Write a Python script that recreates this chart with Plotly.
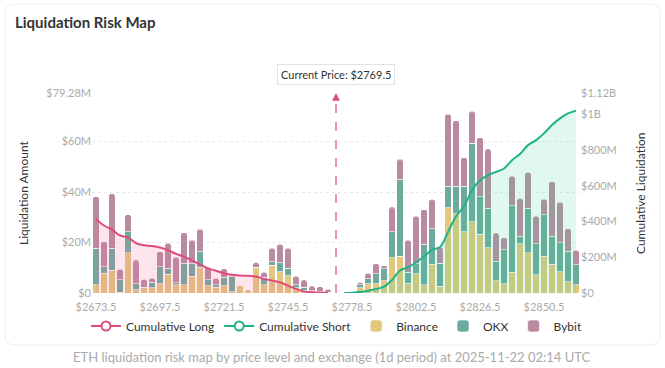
import plotly.graph_objects as go

# ---------------- data ----------------
below_prices = [2673.5, 2676.5, 2679.5, 2682.5, 2685.5, 2688.5, 2691.5, 2694.5, 2697.5, 2700.5,
                2703.5, 2706.5, 2709.5, 2712.5, 2715.5, 2718.5, 2721.5, 2724.5, 2727.5, 2730.5,
                2733.5, 2736.5, 2739.5, 2742.5, 2745.5, 2748.5, 2751.5, 2754.5, 2757.5, 2760.5]
current_price = 2769.5
above_prices = [2775.5, 2778.5, 2781.5, 2784.5, 2787.5, 2790.5, 2793.5, 2796.5, 2799.5, 2802.5,
                2805.5, 2808.5, 2811.5, 2814.5, 2817.5, 2820.5, 2823.5, 2826.5, 2829.5, 2832.5,
                2835.5, 2838.5, 2841.5, 2844.5, 2847.5, 2850.5, 2853.5, 2856.5, 2859.5, 2862.5]

# liquidation amounts in $M (below current price = longs)
long_binance = [3.2, 7.8, 9.1, 0.3, 16, 1.2, 2, 2, 3.6, 7.5, 3.2, 3.2, 6.7, 10.2, 2.8, 2.3, 2.9, 0.5, 3, 1.3,
                10, 3.3, 11, 8.5, 6.8, 2, 1, 0.5, 0.3, 0.2]
long_okx = [14.5, 2.6, 8.6, 4.9, 8.3, 2.4, 0.3, 2.3, 6.8, 2.3, 0.9, 8.6, 5.1, 6.2, 2.4, 1, 3.4, 6, 0, 0,
            0.3, 3, 1.3, 3.5, 3, 1.2, 1.2, 0.3, 0.2, 0.1]
long_bybit = [20.5, 10, 21.6, 4.2, 6.7, 9.5, 3.1, 1.5, 6, 9.9, 10.1, 12.1, 9.2, 8.9, 5, 2.5, 3.3, 0.5, 0.3, 0,
              1.8, 2, 5.4, 7.3, 7.9, 3.5, 3, 2, 2, 1.2]

# above current price = shorts
short_binance = [0.1, 0.2, 2, 3.6, 3.6, 4.9, 13.9, 14.6, 3.9, 7.6, 3.3, 11.3, 2.7, 33.7, 31.5, 24.2, 28.2,
                 23.2, 17.9, 4.9, 3.6, 8.2, 19.5, 15.9, 7.3, 14.5, 11.3, 8.5, 4.5, 3.3]
short_okx = [0.1, 0.1, 1.3, 2, 4, 4.7, 10.3, 30.4, 4.3, 4, 16, 14.2, 9, 8.7, 10.9, 18.2, 31.2, 14.9, 15.6,
             7.6, 13.5, 26.3, 2.9, 17.6, 12.2, 16.6, 11.1, 11.4, 12, 7.9]
short_bybit = [0, 0, 0.9, 2.2, 4, 1.3, 9.9, 8.1, 12.7, 18.9, 13.8, 11.6, 6.5, 28.5, 25.9, 11.3, 12.6, 23.5,
               23.6, 11.3, 4.8, 11.8, 15.1, 14.3, 10.9, 6.1, 21.7, 16.1, 9, 5.7]

# cumulative liquidation in $M
cum_long = [413, 378, 355, 322, 312, 279, 267, 263, 255, 240, 219, 204, 183, 160, 138, 125, 111, 102, 98, 96,
            92, 79, 70, 60, 41, 23, 9, 4, 2, 1.5]
cum_short = [0, 2, 6, 13, 22, 36, 73, 126, 144, 172, 204, 242, 257, 341, 429, 485, 575, 632, 660, 678, 697,
             744, 778, 828, 856, 894, 941, 978, 1006, 1021]

x_tick_prices = [2673.5, 2697.5, 2721.5, 2745.5, 2778.5, 2802.5, 2826.5, 2850.5]
y_left_ticks = [0, 20, 40, 60, 79.28]
y_left_text = ["$0", "$20M", "$40M", "$60M", "$79.28M"]
y_right_ticks = [0, 200, 400, 600, 800, 1000, 1120]
y_right_text = ["$0", "$200M", "$400M", "$600M", "$800M", "$1B", "$1.12B"]

# ---------------- build ----------------
below_cats = [str(p) for p in below_prices]
above_cats = [str(p) for p in above_prices]
cur_cat = str(current_price)
cats = below_cats + [cur_cat] + above_cats
cur_idx = cats.index(cur_cat)

binance = long_binance + [None] + short_binance
okx = long_okx + [None] + short_okx
bybit = long_bybit + [None] + short_bybit

FONT = "Lato"
C_BIN = "#e2c77c"
C_OKX = "#6caa9d"
C_BYB = "#b98aa1"
C_LONG = "#e04a7c"
C_SHORT = "#22b287"

fig = go.Figure()

for name, vals, col, rank in [("Binance", binance, C_BIN, 3), ("OKX", okx, C_OKX, 4), ("Bybit", bybit, C_BYB, 5)]:
    fig.add_trace(go.Bar(x=cats, y=vals, name=name, marker=dict(color=col, line=dict(color="white", width=0.6)),
                         legendrank=rank, hoverinfo="skip"))

fig.add_trace(go.Scatter(x=below_cats, y=cum_long, yaxis="y2", mode="lines", line=dict(color=C_LONG, width=2, shape="spline"),
                         fill="tozeroy", fillcolor="rgba(240,110,150,0.18)", showlegend=False, hoverinfo="skip"))
fig.add_trace(go.Scatter(x=above_cats, y=cum_short, yaxis="y2", mode="lines", line=dict(color=C_SHORT, width=2, shape="spline"),
                         fill="tozeroy", fillcolor="rgba(60,210,150,0.16)", showlegend=False, hoverinfo="skip"))

# legend entries for the cumulative lines
for name, col, rank in [("Cumulative Long", C_LONG, 1), ("Cumulative Short", C_SHORT, 2)]:
    fig.add_trace(go.Scatter(x=[None], y=[None], yaxis="y2", mode="lines+markers", name=name, legendrank=rank,
                             line=dict(color=col, width=2),
                             marker=dict(symbol="circle", size=9, color="white", line=dict(color=col, width=2))))

W, H = 665, 368
L, R, T, B = 92, 85, 93, 75
pw, ph = W - L - R, H - T - B

def px(x):
    return (x - L) / pw

def py(y):
    return (H - B - y) / ph

# card background with rounded corners
x0, x1, y0, y1 = px(5), px(660), py(345), py(4)
rx, ry = 10 / pw, 10 / ph
card_path = (f"M {x0+rx},{y1} L {x1-rx},{y1} Q {x1},{y1} {x1},{y1-ry} L {x1},{y0+ry} Q {x1},{y0} {x1-rx},{y0} "
             f"L {x0+rx},{y0} Q {x0},{y0} {x0},{y0+ry} L {x0},{y1-ry} Q {x0},{y1} {x0+rx},{y1} Z")

fig.update_layout(
    width=W, height=H,
    margin=dict(l=L, r=R, t=T, b=B, autoexpand=False),
    paper_bgcolor="white", plot_bgcolor="rgba(0,0,0,0)",
    font=dict(family=FONT, size=11, color="#555"),
    barmode="stack", bargap=0.22, barcornerradius=2,
    showlegend=True,
    legend=dict(orientation="h", x=px(86), xanchor="left", y=py(326), yanchor="middle", traceorder="normal",
                font=dict(family=FONT, size=12, color="#333"), bgcolor="rgba(0,0,0,0)",
                itemwidth=30, tracegroupgap=0),
    xaxis=dict(type="category", categoryorder="array", categoryarray=cats, range=[-0.5, len(cats) - 0.5],
               tickmode="array", tickvals=[str(p) for p in x_tick_prices],
               ticktext=[f"${p}" for p in x_tick_prices], ticklabelstandoff=6,
               tickfont=dict(size=11, color="#aaa"), showgrid=False, zeroline=False, showline=False, ticks=""),
    yaxis=dict(range=[0, 79.28], tickmode="array", tickvals=y_left_ticks, ticktext=y_left_text,
               tickfont=dict(size=11, color="#aaa"), showgrid=True, gridcolor="#e8e8e8", griddash="dot",
               zeroline=False, showline=False),
    yaxis2=dict(range=[0, 1120], overlaying="y", side="right", tickmode="array", tickvals=y_right_ticks,
                ticktext=y_right_text, tickfont=dict(size=11, color="#aaa"), showgrid=False, zeroline=False,
                showline=False),
    shapes=[
        dict(type="path", xref="paper", yref="paper", path=card_path, fillcolor="white",
             line=dict(color="#ececec", width=1), layer="below"),
        dict(type="line", xref="x", yref="paper", x0=cur_idx, x1=cur_idx, y0=0, y1=0.985,
             line=dict(color=C_LONG, width=1.2, dash="dash")),
    ],
    annotations=[
        dict(text="Liquidation Risk Map", xref="paper", yref="paper", x=px(13), y=py(22), xanchor="left",
             yanchor="middle", showarrow=False, font=dict(family=FONT, size=15, color="#333", weight="bold")),
        dict(text="", xref="x", yref="paper", x=cur_idx, y=1, showarrow=True, ax=0, ay=8,
             arrowhead=2, arrowsize=1.3, arrowwidth=1.2, arrowcolor=C_LONG),
        dict(text="Current Price: $2769.5", xref="x", yref="paper", x=cur_idx, y=py(75), yanchor="middle",
             showarrow=False, bgcolor="white", bordercolor="#e2e2e2", borderwidth=1, borderpad=3,
             font=dict(family=FONT, size=11, color="#333")),
        dict(text="Liquidation Amount", xref="paper", yref="paper", x=px(23), y=0.5, xanchor="center",
             yanchor="middle", textangle=-90, showarrow=False, font=dict(family=FONT, size=12, color="#333")),
        dict(text="Cumulative Liquidation", xref="paper", yref="paper", x=px(640), y=0.5, xanchor="center",
             yanchor="middle", textangle=-90, showarrow=False, font=dict(family=FONT, size=12, color="#333")),
        dict(text="ETH liquidation risk map by price level and exchange (1d period) at 2025-11-22 02:14 UTC",
             xref="paper", yref="paper", x=px(332), y=py(357), yanchor="middle", showarrow=False,
             font=dict(family=FONT, size=13, color="#aaa")),
    ],
)

fig.write_html("out.html", config={"displayModeBar": False},
               post_script="document.body.style.margin='0';")
